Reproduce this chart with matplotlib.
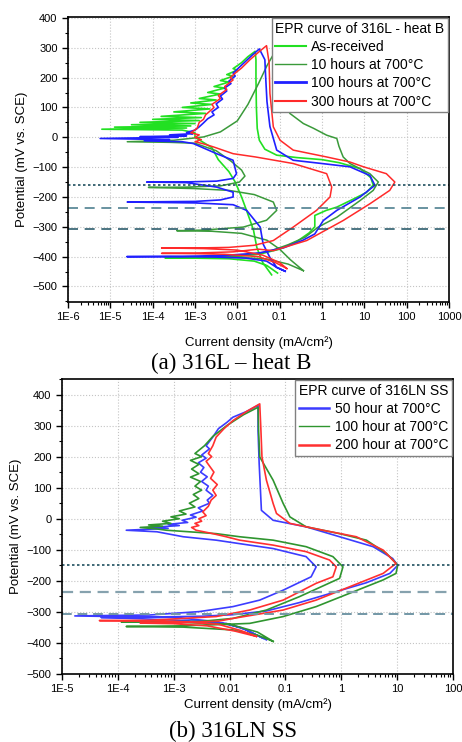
import numpy as np
import matplotlib
matplotlib.use("Agg")
import matplotlib.pyplot as plt
from matplotlib.ticker import FixedLocator, LogLocator, NullFormatter, MultipleLocator

plt.rcParams['font.family'] = ['Liberation Sans', 'DejaVu Sans']

# ---------------- (a) 316L - heat B : log10(current, mA/cm2) , potential (mV) ----------------
asrec_logi = [-1.05, -1.3, -1.6, -2.2, -3.0, -3.71, -2.8, -2.0, -1.5, -1.0, -0.6, -0.3, -0.17, -0.17, 0.1, 0.35,
              0.7, 1.05, 1.21, 1.15, 0.9, 0.4, 0.0, -0.6, -1.07, -1.35, -1.48, -1.53, -1.55, -1.56, -1.56, -1.58,
              -1.75, -1.9, -2.1, -2.0, -2.25, -2.1, -2.4, -2.2, -2.55, -2.3, -2.7, -2.4, -2.9, -2.5, -3.1, -2.6,
              -3.3, -2.65, -3.5, -2.75, -3.8, -2.85, -4.0, -2.9, -4.3, -3.0, -4.5, -3.1, -4.9, -3.2, -5.2, -3.3,
              -3.0, -3.0, -2.6, -2.45, -2.2, -2.05, -1.9, -1.77, -1.62, -1.54, -1.4, -1.19]
asrec_mv = [-455, -430, -415, -407, -405, -404, -403, -400, -392, -375, -350, -320, -300, -262, -245, -234,
            -210, -185, -160, -135, -105, -85, -75, -68, -60, -40, -10, 30, 100, 200, 260, 288,
            270, 250, 230, 225, 210, 205, 190, 185, 170, 165, 150, 145, 130, 125, 115, 110,
            100, 95, 85, 80, 70, 66, 60, 56, 50, 46, 42, 38, 34, 31, 27, 24,
            15, 0, -35, -75, -115, -150, -200, -250, -310, -369, -420, -461]

h10_logi = [-0.44, -0.8, -1.3, -2.0, -2.8, -2.0, -1.3, -0.8, -0.4, -0.09, 0.35, 0.9, 1.21, 1.33, 1.13, 0.66,
            0.5, 0.4, 0.35, 0.11, -0.2, -0.44, -0.76, -0.95, -1.05, -1.15,
            -1.3, -1.5, -1.75, -2.0, -2.4, -2.8, -3.5, -4.6, -3.6, -3.0, -2.5, -2.15, -1.9, -1.82, -1.95,
            -2.4, -3.2, -4.1, -3.0, -2.2, -1.6, -1.15, -1.07, -1.31, -1.86, -2.8, -3.43, -2.6, -1.9, -1.3,
            -1.0, -0.75, -0.44]
h10_mv = [-447, -425, -408, -402, -400, -397, -385, -360, -335, -301, -268, -212, -178, -150, -122, -88,
          -66, -30, -4, 7, 30, 46, 80, 150, 220, 277,
          240, 180, 110, 55, 18, 1, -10, -15, -17, -20, -45, -80, -110, -130, -150,
          -163, -167, -168, -172, -178, -192, -217, -245, -278, -301, -311, -313, -315, -322, -345,
          -375, -410, -447]

h100_logi = [-0.87, -1.07, -1.31, -1.8, -2.6, -3.6, -4.61, -3.3, -2.3, -1.5, -0.9, -0.45, -0.17, 0.03, 0.35,
             0.9, 1.25, 1.13, 0.66, 0.0, -0.68, -1.07, -1.23, -1.3, -1.33, -1.35, -1.48,
             -1.65, -1.8, -1.95, -2.1, -2.05, -2.2, -2.15, -2.3, -2.25, -2.4, -2.35, -2.5, -2.45, -2.6, -2.55,
             -2.7, -2.8, -2.9, -3.0, -3.2, -3.05, -3.6, -3.2, -4.3, -3.4, -5.24, -3.6, -4.2, -3.3, -3.04,
             -2.49, -2.1, -2.02, -2.1, -2.49, -3.3, -4.14, -3.2, -2.49, -2.1, -2.1, -2.4, -3.0, -4.6, -3.0,
             -2.1, -1.78, -1.46, -1.39, -1.23, -1.07, -0.87]
h100_mv = [-449, -436, -415, -405, -401, -400, -400, -399, -396, -388, -370, -345, -324, -279, -245,
           -200, -161, -128, -99, -88, -77, -43, 36, 120, 200, 260, 296,
           275, 255, 235, 215, 205, 188, 180, 165, 155, 138, 128, 112, 100, 85, 75,
           62, 48, 35, 24, 16, 12, 8, 5, 2, 0, -4, -8, -12, -15, -21,
           -55, -77, -122, -138, -147, -150, -150, -152, -167, -184, -200, -210, -215, -217, -220,
           -226, -245, -301, -358, -403, -436, -449]

h300_logi = [-0.83, -1.1, -1.5, -2.3, -3.0, -3.79, -3.0, -2.1, -1.5, -1.15, -0.36, 0.5, 1.13, 1.6, 1.72,
             1.52, 0.98, 0.66, 0.11, -0.68, -0.99, -1.15, -1.23, -1.25, -1.31,
             -1.5, -1.7, -1.9, -2.05, -2.17, -2.1, -2.3, -2.25, -2.45, -2.4, -2.6, -2.55, -2.75, -2.8, -2.9,
             -2.95, -3.1, -2.9, -3.0, -2.85, -3.0, -2.8, -2.57, -2.1, -1.57, -0.68, 0.11, 0.23, 0.19, -0.13,
             -0.68, -1.15, -1.6, -2.2, -3.0, -3.79, -2.8, -2.0, -1.4, -1.0, -0.83]
h300_mv = [-440, -420, -400, -392, -390, -389, -388, -384, -375, -380, -346, -279, -223, -178, -150,
           -122, -99, -83, -66, -43, -10, 35, 147, 250, 307,
           285, 260, 232, 215, 200, 192, 170, 160, 140, 130, 110, 100, 75, 60, 50,
           30, 15, 8, 0, -8, -15, -22, -32, -55, -66, -88, -122, -167, -200, -245,
           -301, -346, -362, -369, -371, -371, -373, -378, -395, -420, -440]

# ---------------- (b) 316LN SS ----------------
b50_logi = [-1.34, -1.7, -2.06, -2.8, -3.6, -4.3, -3.2, -2.5, -1.94, -1.34, -0.75, -0.15, 0.45, 0.87, 1.01,
            0.92, 0.57, -0.03, -0.63, -1.22, -1.43, -1.47, -1.49, -1.49,
            -1.7, -1.94, -2.05, -2.2, -2.3, -2.42, -2.36, -2.5, -2.42, -2.56, -2.46, -2.52, -2.4, -2.5, -2.38,
            -2.42, -2.3, -2.4, -2.36, -2.56, -2.48, -2.7, -2.6, -2.85, -2.75, -3.1, -2.9, -3.4, -3.1, -3.85,
            -3.3, -2.83, -2.24, -1.64, -1.22, -0.63, -0.45, -0.54, -1.04, -1.46, -1.94, -2.54, -3.43, -4.77,
            -3.0, -2.3, -1.8, -1.4]
b50_mv = [-390, -358, -337, -328, -322, -318, -316, -314, -309, -297, -270, -238, -206, -176, -150,
          -128, -90, -58, -26, -5, 27, 177, 284, 365,
          345, 327, 310, 290, 263, 235, 225, 205, 195, 180, 165, 150, 135, 120, 105,
          92, 75, 60, 50, 35, 25, 12, 5, -5, -12, -18, -22, -28, -31, -37,
          -42, -58, -69, -85, -96, -122, -155, -187, -230, -262, -283, -299, -310, -313,
          -318, -330, -350, -385]

b100_logi = [-1.22, -1.5, -1.94, -2.83, -3.85, -2.9, -2.2, -1.64, -1.04, -0.45, 0.15, 0.75, 0.98, 1.01,
             0.81, 0.45, -0.03, -0.63, -0.92, -1.04, -1.22, -1.46, -1.48, -1.49,
             -1.75, -2.05, -2.3, -2.45, -2.62, -2.5, -2.7, -2.55, -2.68, -2.55, -2.7, -2.52, -2.62, -2.5,
             -2.65, -2.55, -2.72, -2.62, -2.9, -2.78, -3.05, -2.9, -3.2, -3.05, -3.45, -3.2, -3.6, -3.3,
             -3.13, -2.24, -1.82, -1.22, -0.63, -0.15, 0.03, -0.03, -0.75, -1.34, -1.94, -2.54, -3.94, -2.8,
             -2.0, -1.5, -1.22]
b100_mv = [-395, -375, -358, -349, -347, -345, -341, -337, -315, -283, -240, -197, -176, -149,
           -112, -69, -48, -26, 6, 49, 124, 199, 280, 359,
           335, 300, 265, 235, 210, 200, 188, 175, 160, 145, 134, 120, 105, 92,
           78, 65, 50, 38, 25, 15, 6, 0, -8, -15, -20, -24, -28, -33,
           -37, -48, -58, -69, -90, -122, -155, -192, -251, -294, -321, -331, -332, -334,
           -340, -365, -395]

b200_logi = [-1.52, -1.9, -2.4, -3.0, -3.6, -2.8, -2.2, -1.94, -1.04, -0.45, 0.15, 0.75, 0.98, 0.75, 0.27,
             -0.33, -0.92, -1.16, -1.22, -1.34, -1.42, -1.44, -1.46,
             -1.7, -1.94, -2.1, -2.24, -2.3, -2.38, -2.32, -2.42, -2.36, -2.28, -2.34, -2.22, -2.3, -2.24,
             -2.33, -2.38, -2.48, -2.42, -2.55, -2.5, -2.62, -2.55, -2.68, -2.6, -2.3, -2.06, -1.82, -1.22,
             -0.63, -0.21, -0.09, -0.15, -0.45, -1.04, -1.64, -2.24, -3.43, -4.33, -3.0, -2.2, -1.8, -1.52]
b200_mv = [-379, -362, -345, -338, -336, -334, -330, -321, -294, -262, -219, -176, -144, -101, -58,
           -37, -15, 17, 49, 124, 199, 290, 370,
           345, 316, 290, 263, 235, 210, 200, 185, 170, 150, 130, 110, 92, 75,
           60, 40, 22, 10, 0, -8, -15, -22, -28, -37, -48, -58, -69, -85,
           -106, -133, -155, -187, -208, -262, -294, -315, -327, -328, -330, -340, -360, -379]

xlabels_a = ['1E-6', '1E-5', '1E-4', '1E-3', '0.01', '0.1', '1', '10', '100', '1000']
xlabels_b = ['1E-5', '1E-4', '1E-3', '0.01', '0.1', '1', '10', '100']

c_lime = '#22e022'
c_dgreen = '#3a9a3a'
c_blue = '#2020ff'
c_red = '#ff2a2a'

fig = plt.figure(figsize=(4.62, 7.42), dpi=100)


def style_axes(ax, xlabels, lo_exp, ylim):
    ax.set_xscale('log')
    ticks = [10.0 ** (lo_exp + k) for k in range(len(xlabels))]
    ax.set_xlim(ticks[0], ticks[-1])
    ax.xaxis.set_major_locator(FixedLocator(ticks))
    ax.set_xticklabels(xlabels)
    ax.xaxis.set_minor_locator(LogLocator(base=10, subs=np.arange(2, 10), numticks=30))
    ax.xaxis.set_minor_formatter(NullFormatter())
    ax.set_ylim(*ylim)
    ax.yaxis.set_major_locator(MultipleLocator(100))
    ax.yaxis.set_minor_locator(MultipleLocator(50))
    ax.tick_params(which='major', direction='out', length=4, width=1, labelsize=8)
    ax.tick_params(which='minor', direction='out', length=2.5, width=0.8)
    ax.grid(True, which='major', linestyle=':', color='#c4c4c4', lw=0.8)
    for s in ax.spines.values():
        s.set_linewidth(1.2)
    ax.set_ylabel('Potential (mV vs. SCE)', fontsize=9.5, labelpad=3)


# ---------------- panel (a)
ax1 = fig.add_axes([68 / 462, 1 - 302 / 742, 381 / 462, 285 / 742])
style_axes(ax1, xlabels_a, -6, (-552, 403))
ax1.plot(10 ** np.array(asrec_logi), asrec_mv, color=c_lime, lw=1.2, label='As-received')
ax1.plot(10 ** np.array(h10_logi), h10_mv, color=c_dgreen, lw=1.1, label='10 hours at 700°C')
ax1.plot(10 ** np.array(h100_logi), h100_mv, color=c_blue, lw=1.2, label='100 hours at 700°C')
ax1.plot(10 ** np.array(h300_logi), h300_mv, color=c_red, lw=1.1, label='300 hours at 700°C')
ax1.axhline(-160, color='#1f4f5f', lw=1.2, ls=(0, (1.5, 1.5)))
ax1.axhline(-238, color='#4f8090', lw=1.2, ls=(0, (6, 4)))
ax1.axhline(-308, color='#2d5d6d', lw=1.2, ls=(0, (6, 4)))
ax1.set_xlabel('Current density (mA/cm²)', fontsize=9.5, labelpad=10)
leg1 = ax1.legend(loc='upper right', title='EPR curve of 316L - heat B', fontsize=10, title_fontsize=10,
                  alignment='left', fancybox=False, edgecolor='#808080', framealpha=1,
                  handlelength=2.2, handletextpad=0.4, labelspacing=0.3, borderaxespad=0.1,
                  borderpad=0.25)
for ln, w in zip(leg1.get_lines(), [1.5, 1.0, 2.0, 1.5]):
    ln.set_linewidth(w)

# ---------------- panel (b)
ax2 = fig.add_axes([62 / 462, 1 - 674 / 742, 391 / 462, 295 / 742])
style_axes(ax2, xlabels_b, -5, (-500, 450))
ax2.plot(10 ** np.array(b50_logi), b50_mv, color='#3c3cff', lw=1.2, label='50 hour at 700°C')
ax2.plot(10 ** np.array(b100_logi), b100_mv, color='#2f952f', lw=1.2, label='100 hour at 700°C')
ax2.plot(10 ** np.array(b200_logi), b200_mv, color='#ff3030', lw=1.2, label='200 hour at 700°C')
ax2.axhline(-148, color='#1f4f5f', lw=1.2, ls=(0, (1.5, 1.5)))
ax2.axhline(-235, color='#86a2ae', lw=1.6, ls=(0, (5, 3)))
ax2.axhline(-308, color='#7297a6', lw=1.4, ls=(0, (5, 3)))
ax2.set_xlabel('Current density (mA/cm²)', fontsize=9.5, labelpad=3)
leg2 = ax2.legend(loc='upper right', title='EPR curve of 316LN SS', fontsize=10, title_fontsize=10,
                  alignment='left', fancybox=False, edgecolor='#808080', framealpha=1,
                  handlelength=2.2, handletextpad=0.4, labelspacing=0.3, borderaxespad=0.1,
                  borderpad=0.25)
for ln, w in zip(leg2.get_lines(), [1.8, 1.0, 1.8]):
    ln.set_linewidth(w)

fig.text(231 / 462, 1 - 363 / 742, '(a) 316L – heat B', family='Liberation Serif', fontsize=16.5,
         ha='center', va='center')
fig.text(233 / 462, 1 - 731 / 742, '(b) 316LN SS', family='Liberation Serif', fontsize=16.5,
         ha='center', va='center')

fig.savefig('out.png', dpi=100)
